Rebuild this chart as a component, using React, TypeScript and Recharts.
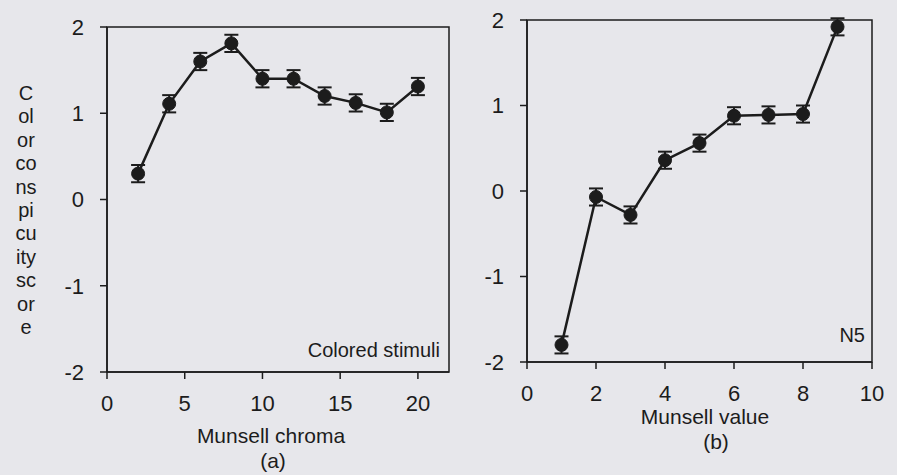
import React from 'react';
import { LineChart, Line, XAxis, YAxis, ErrorBar, ReferenceArea } from 'recharts';

const chromaValues = [2, 4, 6, 8, 10, 12, 14, 16, 18, 20];
const chromaScores = [0.3, 1.11, 1.6, 1.81, 1.4, 1.4, 1.2, 1.12, 1.01, 1.31];
const chromaErrors = [0.1, 0.1, 0.1, 0.1, 0.1, 0.1, 0.1, 0.1, 0.1, 0.1];

const munsellValues = [1, 2, 3, 4, 5, 6, 7, 8, 9];
const valueScores = [-1.8, -0.07, -0.28, 0.36, 0.56, 0.88, 0.89, 0.9, 1.92];
const valueErrors = [0.1, 0.1, 0.1, 0.1, 0.1, 0.1, 0.1, 0.1, 0.1];

const yTicks = [-2, -1, 0, 1, 2];
const chromaTicks = [0, 5, 10, 15, 20];
const valueTicks = [0, 2, 4, 6, 8, 10];
const yLabelLines = ['C', 'ol', 'or', 'co', 'ns', 'pi', 'cu', 'ity', 'sc', 'or', 'e'];

const FONT = '"Liberation Sans", Arial, sans-serif';
const INK = '#1c1c1c';
const BG = '#e7e7eb';

const chromaData = chromaValues.map((x, i) => ({ x, score: chromaScores[i], err: chromaErrors[i] }));
const valueData = munsellValues.map((x, i) => ({ x, score: valueScores[i], err: valueErrors[i] }));

const tickStyle = { fontSize: 22, fill: INK, fontFamily: FONT };

const yAxisTitle = () => (
  <text fontSize={20} fill={INK} fontFamily={FONT} textAnchor="middle">
    {yLabelLines.map((l, i) => (
      <tspan key={i} x={26} y={100 + i * 23.4}>
        {l}
      </tspan>
    ))}
  </text>
);

const xTitle = (title: string, sub: string, cx: number, cy: number, subCx: number, subCy: number) => () => (
  <g>
    <text x={cx} y={cy} fontSize={21} fill={INK} fontFamily={FONT} textAnchor="middle">
      {title}
    </text>
    <text x={subCx} y={subCy} fontSize={21} fill={INK} fontFamily={FONT} textAnchor="middle">
      {sub}
    </text>
  </g>
);

const cornerLabel = (txt: string, dx: number, dy: number) => (props: any) => {
  const vb = props.viewBox || {};
  return (
    <text
      x={vb.x + vb.width - dx}
      y={vb.y + vb.height - dy}
      fontSize={20}
      fill={INK}
      fontFamily={FONT}
      textAnchor="end"
    >
      {txt}
    </text>
  );
};

export default function App() {
  return (
    <div
      style={{
        position: 'absolute',
        left: 0,
        top: 0,
        width: 897,
        height: 475,
        background: BG,
        overflow: 'hidden',
        fontFamily: FONT,
      }}
    >
      <div style={{ position: 'absolute', left: 0, top: 0 }}>
        <LineChart width={460} height={475} data={chromaData} margin={{ top: 27, right: 11, bottom: 73, left: 47 }}>
          <XAxis
            dataKey="x"
            type="number"
            domain={[0, 22]}
            ticks={chromaTicks}
            allowDataOverflow
            height={30}
            tickSize={7}
            tickMargin={16}
            tick={tickStyle}
            stroke={INK}
            strokeWidth={1.5}
            label={xTitle('Munsell chroma', '(a)', 271, 443, 273, 468)}
          />
          <YAxis
            type="number"
            domain={[-2, 2]}
            ticks={yTicks}
            allowDataOverflow
            width={60}
            tickSize={7}
            tickMargin={16}
            tick={tickStyle}
            stroke={INK}
            strokeWidth={1.5}
            label={yAxisTitle}
          />
          <ReferenceArea
            x1={0}
            x2={22}
            y1={-2}
            y2={2}
            fill="none"
            stroke={INK}
            strokeWidth={1.5}
            label={cornerLabel('Colored stimuli', 9, 15)}
          />
          <Line
            dataKey="score"
            stroke={INK}
            strokeWidth={2.5}
            dot={{ r: 6.5, fill: INK, stroke: INK, strokeWidth: 1 }}
            isAnimationActive={false}
          >
            <ErrorBar dataKey="err" width={7} stroke={INK} strokeWidth={2} isAnimationActive={false} />
          </Line>
        </LineChart>
      </div>
      <div style={{ position: 'absolute', left: 460, top: 0 }}>
        <LineChart width={437} height={475} data={valueData} margin={{ top: 20, right: 25, bottom: 83, left: 7 }}>
          <XAxis
            dataKey="x"
            type="number"
            domain={[0, 10]}
            ticks={valueTicks}
            allowDataOverflow
            height={30}
            tickSize={7}
            tickMargin={16}
            tick={tickStyle}
            stroke={INK}
            strokeWidth={1.5}
            label={xTitle('Munsell value', '(b)', 245, 424, 256, 449)}
          />
          <YAxis
            type="number"
            domain={[-2, 2]}
            ticks={yTicks}
            allowDataOverflow
            width={60}
            tickSize={7}
            tickMargin={16}
            tick={tickStyle}
            stroke={INK}
            strokeWidth={1.5}
          />
          <ReferenceArea
            x1={0}
            x2={10}
            y1={-2}
            y2={2}
            fill="none"
            stroke={INK}
            strokeWidth={1.5}
            label={cornerLabel('N5', 7, 20)}
          />
          <Line
            dataKey="score"
            stroke={INK}
            strokeWidth={2.5}
            dot={{ r: 6.5, fill: INK, stroke: INK, strokeWidth: 1 }}
            isAnimationActive={false}
          >
            <ErrorBar dataKey="err" width={7} stroke={INK} strokeWidth={2} isAnimationActive={false} />
          </Line>
        </LineChart>
      </div>
    </div>
  );
}
